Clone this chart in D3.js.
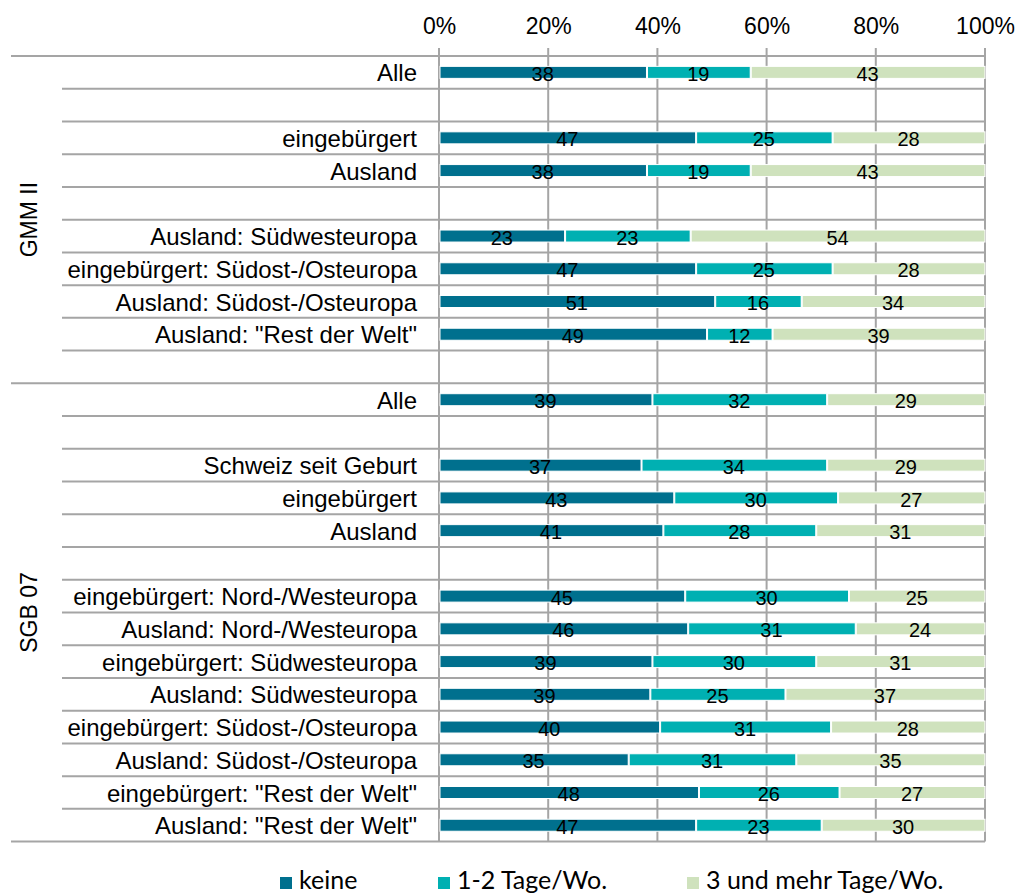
<!DOCTYPE html>
<html>
<head>
<meta charset="utf-8">
<script src="https://cdn.jsdelivr.net/npm/d3@7"></script>
<style>
  html, body { margin: 0; padding: 0; background: #fff; }
  svg { display: block; }
</style>
</head>
<body>
<svg id="chart" width="1019" height="895"></svg>
<script>
const categories = [
  "Alle", "", "eingebürgert", "Ausland", "",
  "Ausland: Südwesteuropa", "eingebürgert: Südost-/Osteuropa", "Ausland: Südost-/Osteuropa", "Ausland: \"Rest der Welt\"", "",
  "Alle", "", "Schweiz seit Geburt", "eingebürgert", "Ausland", "",
  "eingebürgert: Nord-/Westeuropa", "Ausland: Nord-/Westeuropa", "eingebürgert: Südwesteuropa", "Ausland: Südwesteuropa",
  "eingebürgert: Südost-/Osteuropa", "Ausland: Südost-/Osteuropa", "eingebürgert: \"Rest der Welt\"", "Ausland: \"Rest der Welt\""
];
const keine  = [38, null, 47, 38, null, 23, 47, 51, 49, null, 39, null, 37, 43, 41, null, 45, 46, 39, 39, 40, 35, 48, 47];
const tage12 = [19, null, 25, 19, null, 23, 25, 16, 12, null, 32, null, 34, 30, 28, null, 30, 31, 30, 25, 31, 31, 26, 23];
const tage3  = [43, null, 28, 43, null, 54, 28, 34, 39, null, 29, null, 29, 27, 31, null, 25, 24, 31, 37, 28, 35, 27, 30];
const seriesNames = ["keine", "1-2 Tage/Wo.", "3 und mehr Tage/Wo."];
const seriesColors = ["#00708e", "#00b0b2", "#cfe2bd"];
const groupNames = ["GMM II", "SGB 07"];
const groupSizes = [10, 14];
const xTicks = [0, 0.2, 0.4, 0.6, 0.8, 1.0];

const svg = d3.select("#chart");
const plotLeft = 439, plotRight = 985, plotTop = 56, plotBottom = 841.6;
const labelRight = 417, rowLineLeft = 62, groupLineLeft = 11;
const grid = "#a5a5a5";
const font = "'Liberation Sans', Arial, sans-serif";

const x = d3.scaleLinear().domain([0, 1]).range([plotLeft, plotRight]);
const y = d3.scaleBand().domain(d3.range(categories.length)).range([plotTop, plotBottom]).padding(0);

// axis on top
const xAxis = d3.axisTop(x).tickValues(xTicks).tickFormat(d3.format(".0%")).tickSize(0).tickPadding(0);
const ax = svg.append("g").attr("transform", `translate(0,${plotTop})`).call(xAxis);
ax.select(".domain").remove();
ax.selectAll("text").attr("font-family", font).attr("font-size", 23).attr("fill", "#000")
  .attr("y", -22).attr("dy", 0);

// vertical gridlines
svg.append("g").selectAll("line").data(xTicks).join("line")
  .attr("x1", d => x(d)).attr("x2", d => x(d))
  .attr("y1", plotTop - 8).attr("y2", plotBottom)
  .attr("stroke", grid).attr("stroke-width", 2);

// horizontal row boundaries
const boundaries = d3.range(categories.length + 1);
const groupEdges = [0];
groupSizes.reduce((acc, s) => { groupEdges.push(acc + s); return acc + s; }, 0);
svg.append("g").selectAll("line").data(boundaries).join("line")
  .attr("x1", d => groupEdges.includes(d) ? groupLineLeft : rowLineLeft)
  .attr("x2", plotRight)
  .attr("y1", d => plotTop + d * y.step()).attr("y2", d => plotTop + d * y.step())
  .attr("stroke", grid).attr("stroke-width", 2);

// stacked bars
const rows = categories.map((c, i) => ({ i, vals: [keine[i], tage12[i], tage3[i]] }))
  .filter(r => r.vals[0] !== null);
const barH = 12;
const bars = svg.append("g");
rows.forEach(r => {
  const total = d3.sum(r.vals);
  let acc = 0;
  r.vals.forEach((v, k) => {
    const x0 = acc / total, x1 = (acc + v) / total;
    acc += v;
    const cy = y(r.i) + y.bandwidth() / 2;
    bars.append("rect")
      .attr("x", x(x0) + 1).attr("width", x(x1) - x(x0) - 1)
      .attr("y", cy - barH / 2).attr("height", barH)
      .attr("fill", seriesColors[k]).attr("stroke", "#fff").attr("stroke-width", 1);
    bars.append("text")
      .attr("x", (x(x0) + x(x1)) / 2).attr("y", cy + 1).attr("dy", "0.38em")
      .attr("text-anchor", "middle").attr("font-family", font).attr("font-size", 20)
      .attr("fill", "#000").text(v);
  });
});

// category labels
svg.append("g").selectAll("text").data(categories).join("text")
  .attr("x", labelRight).attr("y", (d, i) => y(i) + y.bandwidth() / 2).attr("dy", "0.38em")
  .attr("text-anchor", "end").attr("font-family", font).attr("font-size", 24).attr("fill", "#000")
  .text(d => d);

// group labels
groupNames.forEach((g, k) => {
  const cy = plotTop + (groupEdges[k] + groupEdges[k + 1]) / 2 * y.step();
  svg.append("text")
    .attr("transform", `translate(37,${cy}) rotate(-90)`)
    .attr("text-anchor", "middle").attr("font-family", font).attr("font-size", 23).attr("fill", "#000")
    .text(g);
});

// legend
const legendX = [280, 438, 687];
const lg = svg.append("g");
seriesNames.forEach((s, k) => {
  lg.append("rect").attr("x", legendX[k]).attr("y", 877).attr("width", 12).attr("height", 12)
    .attr("fill", seriesColors[k]);
  lg.append("text").attr("x", legendX[k] + 19).attr("y", 889)
    .attr("font-family", "Lato, 'Open Sans', sans-serif").attr("font-size", 25).attr("fill", "#000")
    .text(s);
});
</script>
</body>
</html>
